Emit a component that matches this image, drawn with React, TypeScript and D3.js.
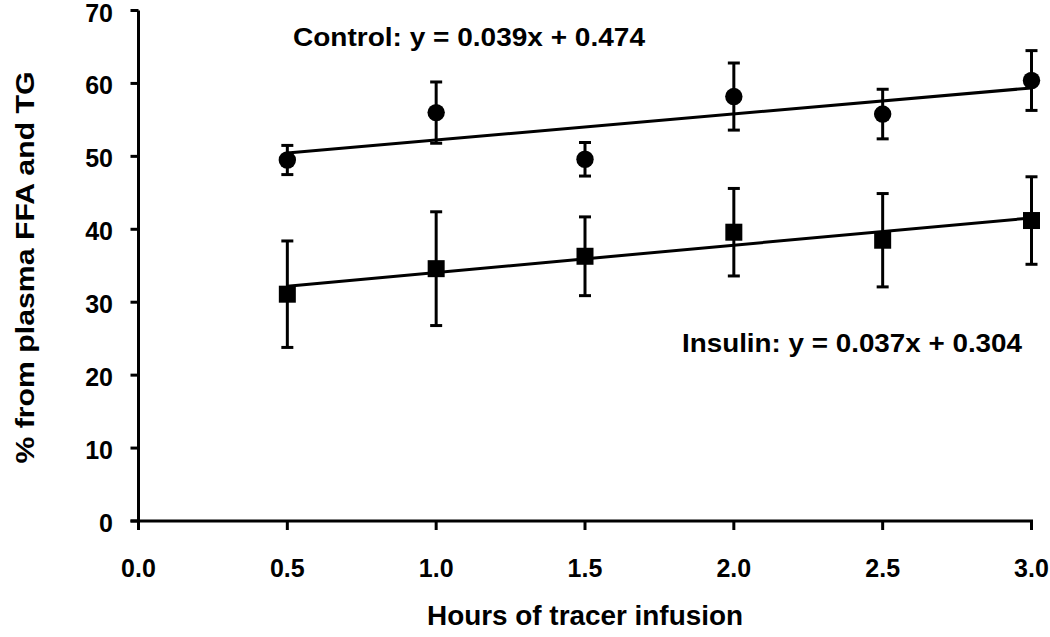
import React from "react";
import * as d3 from "d3";

const hours = [0.5, 1.0, 1.5, 2.0, 2.5, 3.0];
const controlMean = [49.5, 56.0, 49.6, 58.2, 55.8, 60.4];
const controlErr = [2.0, 4.2, 2.3, 4.6, 3.4, 4.1];
const insulinMean = [31.1, 34.6, 36.3, 39.6, 38.5, 41.2];
const insulinErr = [7.3, 7.8, 5.4, 6.0, 6.4, 6.0];
const xTicks = [0, 0.5, 1.0, 1.5, 2.0, 2.5, 3.0];
const yTicks = [0, 10, 20, 30, 40, 50, 60, 70];
const controlLabel = "Control: y = 0.039x + 0.474";
const insulinLabel = "Insulin: y = 0.037x + 0.304";
const xTitle = "Hours of tracer infusion";
const yTitle = "% from plasma FFA and TG";

const FONT = "'Liberation Sans', Arial, Helvetica, sans-serif";

function regression(xs: number[], ys: number[]) {
  const mx = d3.mean(xs)!;
  const my = d3.mean(ys)!;
  let sxy = 0, sxx = 0;
  xs.forEach((x, i) => {
    sxy += (x - mx) * (ys[i] - my);
    sxx += (x - mx) * (x - mx);
  });
  const b = sxy / sxx;
  return (x: number) => my + b * (x - mx);
}

export default function App() {
  const W = 1050, H = 637;
  const x = d3.scaleLinear().domain([0, 3]).range([138.5, 1031.5]);
  const y = d3.scaleLinear().domain([0, 70]).range([521, 10.5]);
  const line = d3.line<number[]>().x(d => x(d[0])).y(d => y(d[1]));
  const fc = regression(hours, controlMean);
  const fi = regression(hours, insulinMean);
  const x0 = d3.min(hours)!, x1 = d3.max(hours)!;
  const cap = 6;
  const sw = 3;

  const errBars = (means: number[], errs: number[], key: string) =>
    hours.map((h, i) => {
      const cx = x(h);
      const top = y(means[i] + errs[i]);
      const bot = y(means[i] - errs[i]);
      return (
        <g key={key + i} stroke="#000" strokeWidth={sw}>
          <line x1={cx} x2={cx} y1={top} y2={bot} />
          <line x1={cx - cap} x2={cx + cap} y1={top} y2={top} />
          <line x1={cx - cap} x2={cx + cap} y1={bot} y2={bot} />
        </g>
      );
    });

  return (
    <svg width={W} height={H} style={{ position: "absolute", left: 0, top: 0, background: "#fff" }} fontFamily={FONT} fontWeight="bold">
      {/* axes */}
      <line x1={x(0)} x2={x(0)} y1={y(70)} y2={y(0)} stroke="#000" strokeWidth={sw} />
      <line x1={x(0) - 8} x2={x(3) + 1.5} y1={y(0)} y2={y(0)} stroke="#000" strokeWidth={sw} />
      {yTicks.map(t => (
        <g key={"yt" + t}>
          <line x1={x(0) - 8} x2={x(0)} y1={y(t)} y2={y(t)} stroke="#000" strokeWidth={sw} />
          <text x={113} y={y(t) + 11} textAnchor="end" fontSize={25}>{t}</text>
        </g>
      ))}
      {xTicks.map(t => (
        <g key={"xt" + t}>
          <line x1={x(t)} x2={x(t)} y1={y(0)} y2={y(0) + 9} stroke="#000" strokeWidth={sw} />
          <text x={x(t)} y={576.5} textAnchor="middle" fontSize={25}>{d3.format(".1f")(t)}</text>
        </g>
      ))}
      {/* titles */}
      <text x={427} y={625} fontSize={28} textLength={316} lengthAdjust="spacingAndGlyphs">{xTitle}</text>
      <text transform={`translate(33.5,267.5) rotate(-90)`} x={-196} fontSize={25} textLength={392} lengthAdjust="spacingAndGlyphs">{yTitle}</text>

      {/* trend lines */}
      <path d={line([[x0, fc(x0)], [x1, fc(x1)]])!} stroke="#000" strokeWidth={sw} fill="none" />
      <path d={line([[x0, fi(x0)], [x1, fi(x1)]])!} stroke="#000" strokeWidth={sw} fill="none" />

      {/* error bars */}
      {errBars(controlMean, controlErr, "c")}
      {errBars(insulinMean, insulinErr, "i")}

      {/* markers */}
      {hours.map((h, i) => (
        <circle key={"cm" + i} cx={x(h)} cy={y(controlMean[i])} r={8.7} fill="#000" />
      ))}
      {hours.map((h, i) => (
        <rect key={"im" + i} x={x(h) - 8.5} y={y(insulinMean[i]) - 8.5} width={17} height={17} fill="#000" />
      ))}

      {/* equation labels */}
      <text x={293} y={46} fontSize={26} textLength={352} lengthAdjust="spacingAndGlyphs">{controlLabel}</text>
      <text x={682} y={352} fontSize={26} textLength={340} lengthAdjust="spacingAndGlyphs">{insulinLabel}</text>
    </svg>
  );
}
